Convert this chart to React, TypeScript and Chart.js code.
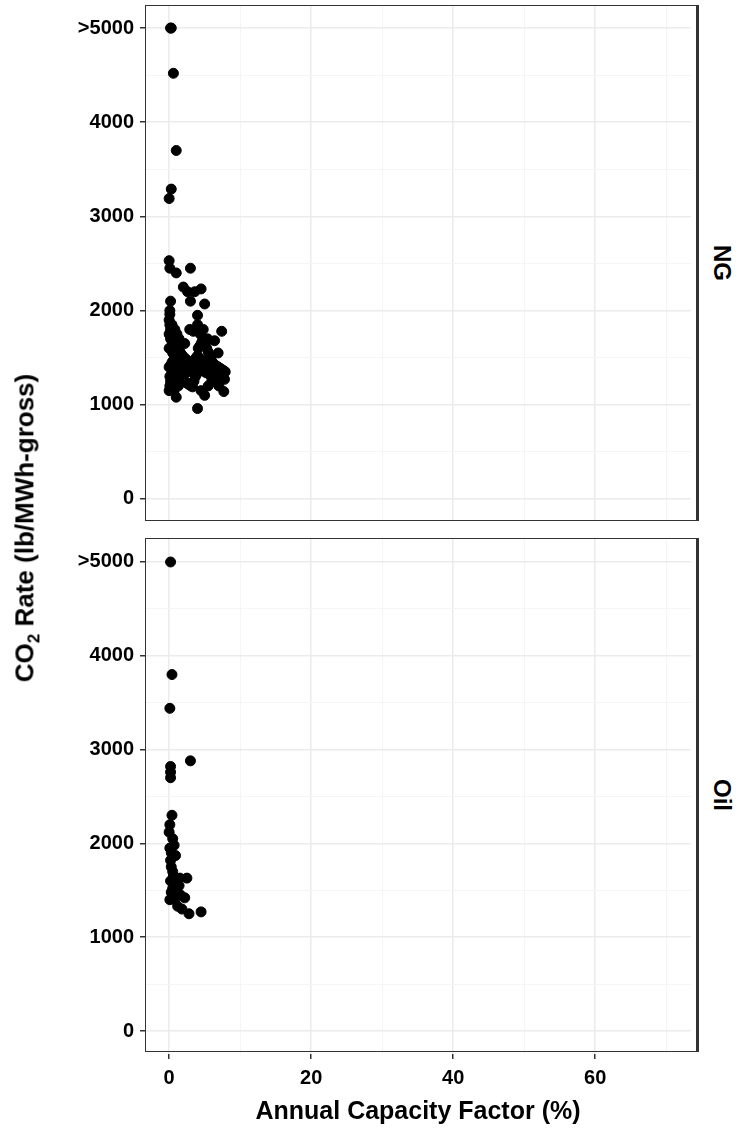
import { useEffect, useRef } from 'react';
import Chart from 'chart.js/auto';

const ngX = [0.2, 0.3, 0.6, 1.0, 0.3, 0.0, 0.0, 0.1, 1.0, 3.0, 2.0, 2.6, 3.0, 4.5, 3.6, 5.0, 4.0, 0.2, 0.1,
  0.0, 0.1, 0.2, 0.3, 0.4, 0.5, 0.6, 0.7, 0.8, 0.9, 1.0, 1.1, 1.2, 1.3, 1.4, 1.5, 1.6, 1.7, 1.8, 1.9, 2.0,
  0.0, 0.2, 0.4, 0.6, 0.8, 1.0, 1.2, 1.4, 1.6, 1.8, 2.0, 2.2, 2.4, 2.6, 2.8, 3.0, 3.2, 3.4, 3.6, 3.8,
  4.0, 4.2, 4.4, 4.6, 4.8, 5.0, 5.2, 5.4, 5.6, 5.8, 6.0, 6.2, 6.4, 6.6, 6.8, 7.0, 7.2, 7.4, 7.6, 7.8,
  0.1, 0.3, 0.5, 0.7, 0.9, 1.1, 1.3, 1.5, 1.7, 1.9, 2.1, 2.3, 2.5, 2.7, 2.9, 3.1, 3.3, 3.5, 3.7, 3.9,
  4.1, 4.3, 4.5, 4.7, 4.9, 5.1, 5.3, 5.5, 5.7, 5.9, 6.1, 6.3, 6.5, 6.7, 6.9, 7.1, 7.3, 7.5, 7.7, 7.9,
  0.0, 0.1, 0.2, 0.3, 0.5, 0.7, 1.0, 1.3, 1.6, 2.0, 2.5, 3.0, 3.5, 4.0, 4.5, 5.0, 5.5, 6.0, 6.5, 7.0,
  0.0, 0.2, 0.4, 0.6, 0.9, 1.2, 1.5, 1.9, 2.3, 2.7, 3.2, 3.7, 4.2, 4.7, 5.2, 5.7, 6.2, 6.7, 7.2, 7.7,
  0.1, 0.4, 0.8, 1.1, 1.4, 2.2, 2.9, 3.4, 4.4, 5.4, 6.4, 7.4, 0.0, 0.5, 1.5, 4.0, 4.8, 6.9, 1.0, 0.3];
const ngY = [5000, 5000, 4520, 3700, 3290, 3190, 2530, 2450, 2400, 2450, 2250, 2200, 2100, 2230, 2200, 2070, 1950, 2100, 2000,
  1900, 1850, 1800, 1780, 1760, 1720, 1700, 1690, 1680, 1650, 1640, 1620, 1600, 1600, 1580, 1560, 1550, 1530, 1520, 1510, 1500,
  1400, 1420, 1450, 1470, 1490, 1500, 1480, 1460, 1440, 1420, 1400, 1390, 1380, 1370, 1360, 1350, 1420, 1450, 1480, 1500,
  1520, 1500, 1480, 1460, 1440, 1420, 1400, 1390, 1380, 1370, 1360, 1350, 1340, 1330, 1320, 1310, 1300, 1290, 1280, 1270,
  1300, 1320, 1340, 1360, 1380, 1400, 1350, 1300, 1280, 1260, 1250, 1240, 1230, 1220, 1210, 1200, 1190, 1250, 1300, 1330,
  1600, 1620, 1650, 1680, 1700, 1650, 1600, 1560, 1520, 1480, 1450, 1430, 1420, 1410, 1400, 1390, 1380, 1370, 1360, 1350,
  1150, 1200, 1250, 1300, 1350, 1150, 1080, 1200, 1250, 1300, 1350, 1400, 1450, 960, 1150, 1100, 1200, 1250, 1300, 1200,
  1750, 1700, 1680, 1650, 1620, 1580, 1550, 1520, 1490, 1460, 1430, 1400, 1380, 1360, 1340, 1320, 1300, 1280, 1260, 1140,
  1960, 1850, 1800, 1750, 1700, 1650, 1800, 1780, 1750, 1700, 1680, 1780, 1600, 1550, 1500, 1850, 1800, 1550, 1230, 1180];

const oilX = [0.2, 0.4, 0.1, 0.2, 0.2, 0.2, 3.0, 0.4, 0.1, 0.0, 0.5, 0.7, 0.1, 0.3, 0.9, 0.2, 0.3, 0.5, 0.6, 1.5,
  2.5, 0.2, 1.0, 1.4, 0.3, 1.6, 2.2, 0.1, 0.8, 1.2, 1.8, 2.8, 4.5, 0.5];
const oilY = [5000, 3800, 3440, 2820, 2760, 2700, 2880, 2300, 2200, 2120, 2050, 1980, 1950, 1900, 1870, 1820, 1750, 1700, 1650, 1630,
  1630, 1600, 1580, 1550, 1480, 1450, 1420, 1400, 1400, 1330, 1300, 1250, 1270, 1520];

const xTicks = [0, 20, 40, 60];
const yTicks = [0, 1000, 2000, 3000, 4000, 5000];

const FONT = 'Liberation Sans, Arial, sans-serif';

const noPad = (s: any) => {
  s.paddingTop = 0;
  s.paddingBottom = 0;
  s.paddingLeft = 0;
  s.paddingRight = 0;
};

function Panel({ xs, ys, top, height, showX }: { xs: number[]; ys: number[]; top: number; height: number; showX: boolean }) {
  const ref = useRef<HTMLCanvasElement>(null);
  useEffect(() => {
    if (!ref.current) return;
    const chart = new Chart(ref.current, {
      type: 'scatter',
      data: {
        datasets: [{
          data: xs.map((x, i) => ({ x, y: ys[i] })),
          backgroundColor: '#000',
          borderColor: '#000',
          pointRadius: 5,
        }],
      },
      options: {
        animation: false,
        responsive: false,
        layout: { padding: 0 },
        plugins: { legend: { display: false }, tooltip: { enabled: false } },
        scales: {
          x: {
            min: -3.4,
            max: 73.5,
            afterBuildTicks: (s: any) => { s.ticks = [0, 10, 20, 30, 40, 50, 60, 70].map(v => ({ value: v })); },
            afterFit: (s: any) => { s.height = showX ? 77 : 0; noPad(s); },
            grid: {
              color: (c: any) => (c.tick && c.tick.value % 20 === 0 ? '#ebebeb' : '#f5f5f5'),
              lineWidth: (c: any) => (c.tick && c.tick.value % 20 === 0 ? 1.5 : 1),
              tickColor: (c: any) => (c.tick && xTicks.includes(c.tick.value) ? '#333' : 'rgba(0,0,0,0)'),
              tickLength: showX ? 5 : 0,
              drawTicks: showX,
            },
            border: { display: false },
            ticks: {
              display: showX,
              color: '#000',
              padding: 7,
              font: { family: FONT, size: 20, weight: 'bold' },
              maxRotation: 0,
              autoSkip: false,
              callback: (v: any) => (xTicks.includes(Number(v)) ? String(v) : ''),
            },
            title: {
              display: showX,
              text: 'Annual Capacity Factor (%)',
              color: '#000',
              font: { family: FONT, size: 25, weight: 'bold' },
              padding: { top: 0, bottom: 4 },
            },
          },
          y: {
            min: -245,
            max: 5245,
            afterBuildTicks: (s: any) => { s.ticks = [0, 500, 1000, 1500, 2000, 2500, 3000, 3500, 4000, 4500, 5000].map(v => ({ value: v })); },
            afterFit: (s: any) => { s.width = 145; noPad(s); },
            grid: {
              color: (c: any) => (c.tick && c.tick.value % 1000 === 0 ? '#ebebeb' : '#f5f5f5'),
              lineWidth: (c: any) => (c.tick && c.tick.value % 1000 === 0 ? 1.5 : 1),
              tickColor: (c: any) => (c.tick && yTicks.includes(c.tick.value) ? '#333' : 'rgba(0,0,0,0)'),
              tickLength: 5,
            },
            border: { display: false },
            ticks: {
              color: '#000',
              padding: 6,
              font: { family: FONT, size: 20, weight: 'bold' },
              autoSkip: false,
              callback: (v: any) => (Number(v) === 5000 ? '>5000' : yTicks.includes(Number(v)) ? String(v) : ''),
            },
          },
        },
      },
    });
    return () => chart.destroy();
  }, [xs, ys, showX]);
  return (
    <canvas ref={ref} width={697} height={height}
      style={{ position: 'absolute', left: 0, top, width: 697, height }} />
  );
}

function Frame({ top, height, label }: { top: number; height: number; label: string }) {
  return (
    <>
      <div style={{ position: 'absolute', left: 145, top, width: 552, height, border: '1.5px solid #333', boxSizing: 'border-box', pointerEvents: 'none' }} />
      <div style={{ position: 'absolute', left: 697, top, width: 48, height, borderLeft: '2px solid #333', boxSizing: 'border-box', background: '#fff' }}>
        <div style={{ position: 'absolute', left: '50%', top: '50%', transform: 'translate(-50%,-50%) rotate(90deg)', fontFamily: FONT, fontWeight: 'bold', fontSize: 24, color: '#000', whiteSpace: 'nowrap' }}>{label}</div>
      </div>
    </>
  );
}

export default function App() {
  return (
    <div style={{ position: 'absolute', left: 0, top: 0, width: 745, height: 1135, background: '#fff', overflow: 'hidden' }}>
      <Panel xs={ngX} ys={ngY} top={-1} height={529} showX={false} />
      <div style={{ position: 'absolute', left: 0, top: 521, width: 745, height: 17, background: '#fff' }} />
      <Panel xs={oilX} ys={oilY} top={533} height={598} showX={true} />
      <Frame top={5} height={516} label="NG" />
      <Frame top={538} height={514} label="Oil" />
      <div style={{ position: 'absolute', left: 27, top: 528, transform: 'translate(-50%,-50%) rotate(-90deg)', fontFamily: FONT, fontWeight: 'bold', fontSize: 26, whiteSpace: 'nowrap', color: '#000' }}>
        CO<sub style={{ fontSize: 17 }}>2</sub> Rate (lb/MWh-gross)
      </div>
    </div>
  );
}
